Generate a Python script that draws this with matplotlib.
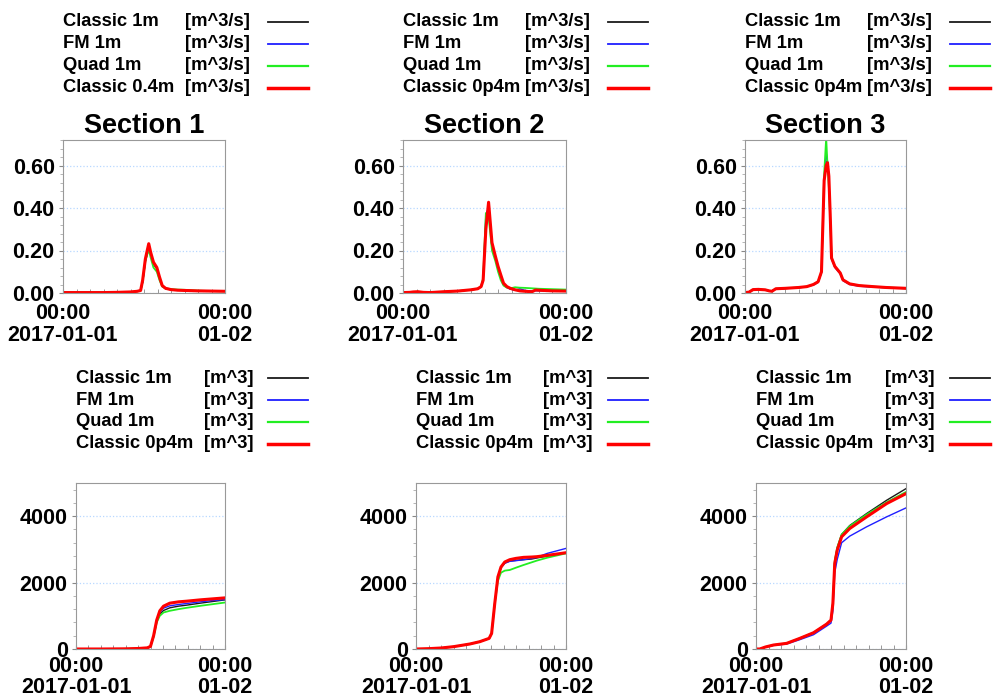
import numpy as np
import pandas as pd
import matplotlib
matplotlib.use("Agg")
import matplotlib.pyplot as plt
import matplotlib.dates as mdates
from matplotlib.lines import Line2D

plt.rcParams['font.family'] = ['Liberation Sans', 'DejaVu Sans']
plt.rcParams['font.weight'] = 'bold'

# ---- data (hours after 2017-01-01 00:00) ----
sections = ["Section 1", "Section 2", "Section 3"]
series_names = ["Classic 1m", "FM 1m", "Quad 1m"]
fine_names = ["Classic 0.4m", "Classic 0p4m", "Classic 0p4m"]
colors = ["#1a1a1a", "#1f1fff", "#22ee22", "#ff0000"]
widths = [1.0, 1.0, 1.3, 2.2]

# discharge [m^3/s]
q1_h = [0, 2, 4, 6, 8, 10, 11, 11.5, 11.8, 12.2, 12.7, 13.0, 13.4, 13.9, 14.3,
        14.7, 15.2, 16, 17, 18, 20, 22, 24]
q1_classic = [0.002, 0.002, 0.002, 0.002, 0.003, 0.005, 0.008, 0.012, 0.05, 0.15, 0.215,
              0.18, 0.135, 0.115, 0.07, 0.033, 0.02, 0.015, 0.013, 0.012, 0.01, 0.009, 0.008]
q1_fm = [0.002, 0.002, 0.002, 0.002, 0.003, 0.005, 0.008, 0.012, 0.052, 0.15, 0.21,
         0.175, 0.14, 0.118, 0.072, 0.034, 0.021, 0.016, 0.014, 0.012, 0.01, 0.009, 0.008]
q1_quad = [0.002, 0.002, 0.002, 0.002, 0.003, 0.005, 0.008, 0.012, 0.055, 0.15, 0.205,
           0.165, 0.12, 0.10, 0.06, 0.03, 0.022, 0.018, 0.016, 0.015, 0.011, 0.009, 0.008]
q1_fine = [0.002, 0.002, 0.002, 0.002, 0.003, 0.005, 0.008, 0.012, 0.06, 0.16, 0.232,
           0.19, 0.145, 0.12, 0.075, 0.035, 0.022, 0.016, 0.013, 0.012, 0.01, 0.009, 0.008]

q2_h = [0, 1, 1.5, 2.2, 3, 4, 6, 8, 10, 11, 11.5, 11.8, 12.2, 12.6, 13.1, 13.6, 14.0,
        14.4, 14.8, 15.3, 15.8, 16.5, 17.2, 18, 19, 19.5, 20, 22, 24]
q2_classic = [0.002, 0.003, 0.005, 0.006, 0.003, 0.002, 0.006, 0.009, 0.015, 0.02, 0.03,
              0.06, 0.33, 0.41, 0.23, 0.17, 0.12, 0.08, 0.044, 0.028, 0.02, 0.014, 0.012,
              0.01, 0.008, 0.012, 0.012, 0.01, 0.009]
q2_fm = [0.002, 0.003, 0.005, 0.006, 0.003, 0.002, 0.006, 0.009, 0.015, 0.02, 0.03,
         0.065, 0.37, 0.40, 0.22, 0.175, 0.12, 0.08, 0.04, 0.026, 0.018, 0.014, 0.02,
         0.012, 0.009, 0.011, 0.011, 0.01, 0.009]
q2_quad = [0.002, 0.003, 0.005, 0.006, 0.003, 0.002, 0.006, 0.009, 0.015, 0.02, 0.03,
           0.07, 0.376, 0.36, 0.20, 0.15, 0.10, 0.06, 0.035, 0.025, 0.022, 0.027, 0.025,
           0.024, 0.022, 0.021, 0.02, 0.018, 0.016]
q2_fine = [0.002, 0.003, 0.005, 0.006, 0.003, 0.002, 0.006, 0.009, 0.015, 0.02, 0.03,
           0.06, 0.30, 0.427, 0.237, 0.173, 0.125, 0.085, 0.046, 0.03, 0.022, 0.015, 0.01,
           0.008, 0.006, 0.014, 0.013, 0.01, 0.009]

q3_h = [0, 0.6, 1.2, 2.0, 3.0, 3.6, 4.0, 4.6, 6, 8, 9.2, 10.2, 10.9, 11.4, 11.8, 12.1,
        12.3, 12.5, 12.7, 12.9, 13.4, 14.2, 14.6, 15.6, 17, 19.1, 21, 24]
q3_classic = [0.002, 0.004, 0.016, 0.017, 0.015, 0.01, 0.008, 0.02, 0.022, 0.026, 0.03,
              0.04, 0.053, 0.10, 0.52, 0.62, 0.615, 0.55, 0.37, 0.165, 0.125, 0.094,
              0.062, 0.043, 0.035, 0.03, 0.026, 0.022]
q3_fm = [0.002, 0.004, 0.016, 0.017, 0.015, 0.01, 0.008, 0.02, 0.021, 0.025, 0.029,
         0.038, 0.05, 0.095, 0.53, 0.66, 0.62, 0.54, 0.36, 0.16, 0.12, 0.09, 0.058,
         0.04, 0.032, 0.028, 0.025, 0.021]
q3_quad = [0.002, 0.004, 0.016, 0.017, 0.015, 0.01, 0.008, 0.02, 0.022, 0.026, 0.03,
           0.04, 0.053, 0.10, 0.56, 0.73, 0.60, 0.50, 0.35, 0.165, 0.125, 0.094, 0.062,
           0.043, 0.035, 0.03, 0.026, 0.022]
q3_fine = [0.002, 0.004, 0.016, 0.017, 0.015, 0.01, 0.008, 0.02, 0.022, 0.026, 0.03,
           0.04, 0.053, 0.10, 0.53, 0.60, 0.613, 0.55, 0.37, 0.165, 0.125, 0.094, 0.062,
           0.043, 0.035, 0.03, 0.026, 0.022]

# cumulative volume [m^3]
v1_h = [0, 4, 8, 10, 11.5, 12, 12.5, 13, 13.5, 14.1, 15.1, 16.5, 17.8, 20, 22, 24]
v1_classic = [0, 0, 5, 15, 35, 75, 380, 820, 1050, 1160, 1240, 1290, 1320, 1380, 1430, 1480]
v1_fm = [0, 0, 5, 15, 35, 78, 390, 840, 1100, 1230, 1300, 1340, 1370, 1420, 1460, 1490]
v1_quad = [0, 0, 5, 15, 35, 75, 370, 800, 1000, 1100, 1150, 1200, 1240, 1300, 1350, 1400]
v1_fine = [0, 0, 5, 15, 35, 80, 400, 870, 1150, 1290, 1380, 1420, 1440, 1480, 1510, 1540]

v2_h = [0, 2, 4, 6, 8.6, 10.2, 11.7, 12.1, 12.6, 13.1, 13.6, 14.2, 15, 16, 17.2, 18.5,
        19.3, 21, 24]
v2_classic = [0, 10, 30, 70, 150, 220, 320, 470, 1370, 2150, 2450, 2590, 2650, 2670, 2690,
              2710, 2740, 2800, 2900]
v2_fm = [0, 10, 30, 70, 150, 220, 320, 470, 1370, 2150, 2450, 2580, 2640, 2660, 2690, 2730,
         2760, 2880, 3030]
v2_quad = [0, 10, 30, 70, 150, 220, 320, 470, 1370, 2050, 2300, 2360, 2380, 2450, 2530,
           2610, 2660, 2750, 2880]
v2_fine = [0, 10, 30, 70, 150, 220, 320, 470, 1370, 2170, 2470, 2620, 2690, 2730, 2760,
           2770, 2780, 2820, 2900]

v3_h = [0, 0.6, 1.5, 2.8, 4.9, 7, 9.2, 11.3, 12.0, 12.3, 12.6, 13.0, 13.7, 15, 17.7, 20.9, 24]
v3_classic = [0, 0, 60, 120, 170, 320, 490, 750, 870, 1400, 2650, 3050, 3450, 3720, 4080,
              4480, 4830]
v3_fm = [0, 0, 55, 110, 150, 280, 430, 690, 780, 1150, 2300, 2700, 3200, 3400, 3680, 3980,
         4250]
v3_quad = [0, 0, 60, 120, 170, 320, 490, 750, 870, 1400, 2650, 3060, 3450, 3700, 4050,
           4420, 4730]
v3_fine = [0, 0, 60, 120, 170, 320, 490, 750, 870, 1370, 2580, 2980, 3380, 3630, 3980,
           4380, 4680]

discharge = [(q1_h, [q1_classic, q1_fm, q1_quad, q1_fine]),
             (q2_h, [q2_classic, q2_fm, q2_quad, q2_fine]),
             (q3_h, [q3_classic, q3_fm, q3_quad, q3_fine])]
volume = [(v1_h, [v1_classic, v1_fm, v1_quad, v1_fine]),
          (v2_h, [v2_classic, v2_fm, v2_quad, v2_fine]),
          (v3_h, [v3_classic, v3_fm, v3_quad, v3_fine])]

start = pd.Timestamp("2017-01-01 00:00")
end = pd.Timestamp("2017-01-02 00:00")

W, H = 993, 699
fig = plt.figure(figsize=(W / 100, H / 100), dpi=100)


def px_axes(left, right, top, bottom):
    return fig.add_axes([left / W, 1 - bottom / H, (right - left) / W, (bottom - top) / H])


def legend_block(x_name, x_unit_right, x_handle, rows_y, names, unit):
    for name, y, c, lw in zip(names, rows_y, colors, widths):
        fig.text(x_name / W, 1 - y / H, name, fontsize=13.2, fontweight='bold',
                 ha='left', va='center')
        fig.text(x_unit_right / W, 1 - y / H, unit, fontsize=13.2, fontweight='bold',
                 ha='right', va='center')
        fig.add_artist(Line2D([x_handle / W, (x_handle + 40) / W], [1 - y / H, 1 - y / H],
                              color=c, lw=lw + 0.3, transform=fig.transFigure))


def style_axes(ax, ymax, yticks, fmt, xpad=7, spacing=1.05):
    ax.set_xlim(start, end)
    ax.set_ylim(0, ymax)
    ax.set_xticks([start, end])
    ax.set_xticklabels(["00:00\n2017-01-01", "00:00\n01-02"])
    ax.xaxis.set_minor_locator(mdates.HourLocator(interval=2))
    ax.set_yticks(yticks)
    ax.set_yticklabels([fmt.format(v) for v in yticks])
    ax.yaxis.set_minor_locator(plt.MultipleLocator(yticks[1] / 5))
    ax.tick_params(axis='both', which='major', labelsize=15.5, length=3, color='#888888')
    ax.tick_params(axis='x', which='major', pad=xpad, direction='in')
    ax.tick_params(axis='y', which='major', pad=3)
    ax.tick_params(axis='x', which='minor', direction='in', length=3, color='#888888')
    ax.tick_params(axis='y', which='minor', direction='out', length=2, color='#aaaaaa')
    for lab in ax.get_xticklabels():
        lab.set_fontweight('bold')
        lab.set_linespacing(spacing)
    for lab in ax.get_yticklabels():
        lab.set_fontweight('bold')
    ax.grid(True, axis='y', which='major', linestyle=':', color='#b8d8ff', lw=0.9)
    for sp in ax.spines.values():
        sp.set_color('#999999')


top_pos = [(63, 225), (403, 566), (745, 906)]
bot_pos = [(76, 225), (416, 566), (756, 906)]
offsets = [0, 340, 682]

for i in range(3):
    # discharge panel
    ax = px_axes(top_pos[i][0], top_pos[i][1], 140, 293)
    hrs, vals = discharge[i]
    t = start + pd.to_timedelta(hrs, unit='h')
    for v, c, lw in zip(vals, colors, widths):
        ax.plot(t, v, color=c, lw=lw)
    style_axes(ax, 0.72, [0, 0.2, 0.4, 0.6], "{:.2f}")
    ax.set_title(sections[i], fontsize=19.5, fontweight='bold', pad=5)
    names = series_names + [fine_names[i]]
    legend_block(top_pos[i][0], 250 + offsets[i], 268 + offsets[i],
                 [22, 44, 66, 88], names, "[m^3/s]")

    # volume panel
    ax = px_axes(bot_pos[i][0], bot_pos[i][1], 483, 649)
    hrs, vals = volume[i]
    t = start + pd.to_timedelta(hrs, unit='h')
    for v, c, lw in zip(vals, colors, widths):
        ax.plot(t, v, color=c, lw=lw)
    style_axes(ax, 5000, [0, 2000, 4000], "{:.0f}", xpad=5, spacing=0.98)
    names = series_names + ["Classic 0p4m"]
    legend_block(bot_pos[i][0], 253 + offsets[i], 268 + offsets[i],
                 [378, 400, 422, 444], names, "[m^3]")

fig.savefig("out.png", dpi=100)
